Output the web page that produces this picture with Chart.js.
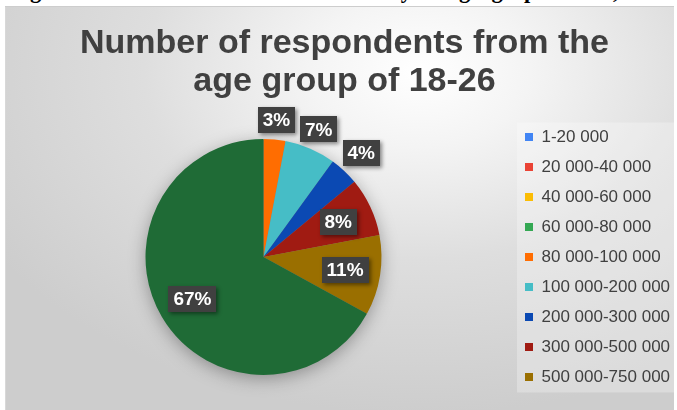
<!DOCTYPE html>
<html>
<head>
<meta charset="utf-8">
<script src="https://cdn.jsdelivr.net/npm/chart.js@4.4.1/dist/chart.umd.min.js"></script>
<style>
  body {
    margin: 0;
    width: 677px;
    height: 410px;
    overflow: hidden;
    position: relative;
    background: #fff;
  }
  .caption {
    position: absolute;
    left: 10px;
    top: -20px;
    font: bold 22.5px/22px "Liberation Serif", "Times New Roman", serif;
    color: #000;
    white-space: nowrap;
  }
  .frame {
    position: absolute;
    left: 5px;
    top: 6px;
    width: 669px;
    height: 404px;
    background: radial-gradient(ellipse 75% 85% at 62% 16%, #ffffff 0%, #f4f4f4 22%, #dedede 55%, #cdcdcd 100%);
    box-shadow: inset 0 1px 0 #cdcdcd, inset 1px 0 0 #d8d8d8;
  }
</style>
</head>
<body>
<div class="caption">Figure 3: Income distribution of the study of a geographic area, monthly</div>
<div class="frame">
  <canvas id="incomePie"></canvas>
</div>

<script>
const incomeRanges = [
  '1-20 000', '20 000-40 000', '40 000-60 000', '60 000-80 000', '80 000-100 000',
  '100 000-200 000', '200 000-300 000', '300 000-500 000', '500 000-750 000', '750 000-1 000 000'
];
const respondentShares = [0, 0, 0, 0, 3, 7, 4, 8, 11, 67];
const sliceColors = [
  '#4285f4', '#ea4335', '#fbbc04', '#34a853', '#ff6d01',
  '#46bdc6', '#0b49b3', '#a01b12', '#9a6f00', '#1f6b36'
];
const legendCount = 9;

// soft shadow under the whole pie, painted before the slices
const pieShadow = {
  id: 'pieShadow',
  beforeDatasetsDraw(chart) {
    const arc = chart.getDatasetMeta(0).data[0];
    if (!arc) return;
    const { x, y, outerRadius } = arc.getProps(['x', 'y', 'outerRadius'], true);
    const ctx = chart.ctx;
    ctx.save();
    ctx.shadowColor = 'rgba(0, 0, 0, 0.35)';
    ctx.shadowBlur = 18;
    ctx.shadowOffsetY = 4;
    ctx.fillStyle = '#808080';
    ctx.beginPath();
    ctx.arc(x, y, outerRadius - 1, 0, Math.PI * 2);
    ctx.fill();
    ctx.restore();
  }
};

// lighter panel behind the legend
const legendPanel = {
  id: 'legendPanel',
  beforeDraw(chart) {
    const legend = chart.legend;
    const boxes = legend && legend.legendHitBoxes;
    if (!boxes || !boxes.length) return;
    const first = boxes[0];
    const last = boxes[boxes.length - 1];
    const ctx = chart.ctx;
    ctx.save();
    ctx.fillStyle = 'rgba(255, 255, 255, 0.28)';
    ctx.fillRect(first.left - 8, first.top - 6, legend.right - first.left + 8, last.top + last.height + 13 - first.top);
    ctx.restore();
  }
};

// dark value tags: inside big slices, just outside the small ones
const sliceLabels = {
  id: 'sliceLabels',
  afterDatasetsDraw(chart) {
    const ctx = chart.ctx;
    const meta = chart.getDatasetMeta(0);
    ctx.save();
    ctx.font = 'bold 19px "Liberation Sans", Arial, sans-serif';
    ctx.textAlign = 'center';
    ctx.textBaseline = 'middle';
    meta.data.forEach((arc, i) => {
      const value = respondentShares[i];
      if (!value) return;
      const { x, y, startAngle, endAngle, outerRadius } =
        arc.getProps(['x', 'y', 'startAngle', 'endAngle', 'outerRadius'], true);
      const mid = (startAngle + endAngle) / 2;
      const dx = Math.cos(mid);
      const dy = Math.sin(mid);
      const text = value + '%';
      const w = Math.round(ctx.measureText(text).width + 10);
      const h = 26;
      let dist;
      if (value >= 8) {
        dist = outerRadius * 0.7;
      } else {
        dist = outerRadius + 7 + Math.min(w / 2 / Math.abs(dx), h / 2 / Math.abs(dy));
      }
      const cx = x + dx * dist;
      const cy = y + dy * dist;
      ctx.shadowColor = 'rgba(0, 0, 0, 0.45)';
      ctx.shadowBlur = 4;
      ctx.shadowOffsetX = 2;
      ctx.shadowOffsetY = 2;
      ctx.fillStyle = '#404040';
      ctx.fillRect(Math.round(cx - w / 2), Math.round(cy - h / 2), w, h);
      ctx.shadowColor = 'transparent';
      ctx.fillStyle = '#ffffff';
      ctx.fillText(text, cx, cy + 1);
    });
    ctx.restore();
  }
};

new Chart(document.getElementById('incomePie'), {
  type: 'pie',
  data: {
    labels: incomeRanges,
    datasets: [{
      data: respondentShares,
      backgroundColor: sliceColors,
      borderWidth: 0,
      radius: 118
    }]
  },
  options: {
    responsive: true,
    maintainAspectRatio: false,
    animation: false,
    events: [],
    layout: {
      padding: { left: 10, right: 0, top: 0, bottom: 8 }
    },
    plugins: {
      title: {
        display: true,
        text: ['Number of respondents from the', 'age group of 18-26'],
        color: '#404040',
        font: { family: '"Liberation Sans", Arial, sans-serif', size: 34, weight: 'bold', lineHeight: 38 / 34 },
        padding: { top: 19, bottom: 11 }
      },
      legend: {
        position: 'right',
        fullSize: false,
        maxWidth: 162,
        labels: {
          color: '#404040',
          font: { family: '"Liberation Sans", Arial, sans-serif', size: 17 },
          boxWidth: 8,
          boxHeight: 8,
          padding: 13,
          filter: (item) => item.index < legendCount
        }
      },
      tooltip: { enabled: false }
    }
  },
  plugins: [pieShadow, legendPanel, sliceLabels]
});
</script>
</body>
</html>
